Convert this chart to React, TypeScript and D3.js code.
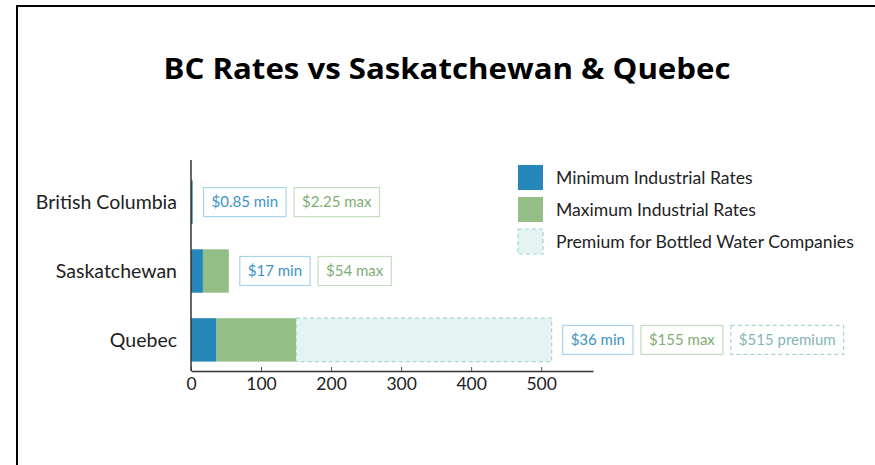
import { useEffect, useRef } from "react";
import * as d3 from "d3";

// Data
const provinces = ["British Columbia", "Saskatchewan", "Quebec"];
const minRates = [0.85, 17, 36];
const maxRates = [2.25, 54, 150];
const premiumRates = [0, 0, 515];
const minLabels = ["$0.85 min", "$17 min", "$36 min"];
const maxLabels = ["$2.25 max", "$54 max", "$155 max"];
const premiumLabels = ["", "", "$515 premium"];
const xTicks = [0, 100, 200, 300, 400, 500];
const legendItems = [
  "Minimum Industrial Rates",
  "Maximum Industrial Rates",
  "Premium for Bottled Water Companies",
];

const colors = {
  min: "#2586b9",
  max: "#93bf86",
  premium: "#e6f3f3",
  premiumStroke: "#a3d6d6",
  minText: "#3b93c6",
  minBox: "#a9d4ec",
  maxText: "#80ad72",
  maxBox: "#c6dcbf",
  premText: "#86b3b8",
};

const App = () => {
  const svgRef = useRef<SVGSVGElement>(null);

  useEffect(() => {
    const width = 875;
    const height = 465;
    const svg = d3.select(svgRef.current).attr("width", width).attr("height", height);
    svg.selectAll("*").remove();

    const font = "Lato, 'Open Sans', sans-serif";

    // frame
    svg
      .append("rect")
      .attr("x", 17)
      .attr("y", 6)
      .attr("width", 900)
      .attr("height", 500)
      .attr("fill", "#fff")
      .attr("stroke", "#000")
      .attr("stroke-width", 2);

    // title
    svg
      .append("text")
      .attr("x", 447)
      .attr("y", 79)
      .attr("text-anchor", "middle")
      .style("font-family", "'Open Sans', sans-serif")
      .style("font-weight", 700)
      .style("font-size", "28px")
      .attr("textLength", 567)
      .attr("lengthAdjust", "spacingAndGlyphs")
      .attr("fill", "#000")
      .text("BC Rates vs Saskatchewan & Quebec");

    const x = d3.scaleLinear().domain([0, 574]).range([191, 593]);
    const y = d3.scaleBand().domain(provinces).range([168, 374]).paddingInner(0.37).paddingOuter(0.18);

    const rows = provinces.map((p, i) => ({
      name: p,
      min: minRates[i],
      max: maxRates[i],
      premium: premiumRates[i],
      labels: [
        { text: minLabels[i], kind: "min" },
        { text: maxLabels[i], kind: "max" },
        { text: premiumLabels[i], kind: "premium" },
      ].filter((d) => d.text !== ""),
    }));

    // premium bars (dashed)
    svg
      .selectAll(".prem")
      .data(rows.filter((d) => d.premium > 0))
      .enter()
      .append("rect")
      .attr("x", (d) => x(d.max))
      .attr("y", (d) => y(d.name)!)
      .attr("width", (d) => x(d.premium) - x(d.max))
      .attr("height", y.bandwidth())
      .attr("fill", colors.premium)
      .attr("stroke", colors.premiumStroke)
      .attr("stroke-width", 1.2)
      .attr("stroke-dasharray", "4,3");

    // max bars
    svg
      .selectAll(".maxbar")
      .data(rows)
      .enter()
      .append("rect")
      .attr("x", (d) => x(d.min))
      .attr("y", (d) => y(d.name)!)
      .attr("width", (d) => x(d.max) - x(d.min))
      .attr("height", y.bandwidth())
      .attr("fill", colors.max);

    // min bars
    svg
      .selectAll(".minbar")
      .data(rows)
      .enter()
      .append("rect")
      .attr("x", x(0))
      .attr("y", (d) => y(d.name)!)
      .attr("width", (d) => Math.max(x(d.min) - x(0), 1.5))
      .attr("height", y.bandwidth())
      .attr("fill", colors.min);

    // x axis
    const axisY = 371;
    const xAxis = d3
      .axisBottom(x)
      .tickValues(xTicks)
      .tickSizeInner(-4)
      .tickSizeOuter(0)
      .tickPadding(7);
    const gx = svg.append("g").attr("transform", `translate(0,${axisY})`).call(xAxis);
    gx.select(".domain").attr("stroke", "#333").attr("stroke-width", 1.5);
    gx.selectAll(".tick line").attr("stroke", "#555");
    gx.selectAll(".tick text")
      .style("font-family", font)
      .style("font-size", "17.5px")
      .attr("fill", "#222");

    // y axis line
    svg
      .append("line")
      .attr("x1", x(0))
      .attr("x2", x(0))
      .attr("y1", 160)
      .attr("y2", axisY)
      .attr("stroke", "#333")
      .attr("stroke-width", 1.5);

    // category labels
    svg
      .selectAll(".cat")
      .data(rows)
      .enter()
      .append("text")
      .attr("x", 177)
      .attr("y", (d) => y(d.name)! + y.bandwidth() / 2)
      .attr("dy", "0.35em")
      .attr("text-anchor", "end")
      .style("font-family", font)
      .style("font-size", "19.5px")
      .attr("fill", "#222")
      .text((d) => d.name);

    // value boxes
    const boxH = 29;
    rows.forEach((r) => {
      const end = r.premium > 0 ? r.premium : r.max;
      let cx = x(end) + 11;
      const cy = y(r.name)! + y.bandwidth() / 2;
      r.labels.forEach((lab) => {
        const g = svg.append("g");
        const t = g
          .append("text")
          .attr("y", cy)
          .attr("dy", "0.35em")
          .style("font-family", font)
          .style("font-size", "15px")
          .attr("fill", lab.kind === "min" ? colors.minText : lab.kind === "max" ? colors.maxText : colors.premText)
          .text(lab.text);
        const w = (t.node() as SVGTextElement).getComputedTextLength();
        const pad = 8;
        t.attr("x", cx + pad);
        g.insert("rect", "text")
          .attr("x", cx)
          .attr("y", cy - boxH / 2)
          .attr("width", w + pad * 2)
          .attr("height", boxH)
          .attr("fill", "#fff")
          .attr("stroke", lab.kind === "min" ? colors.minBox : lab.kind === "max" ? colors.maxBox : colors.premiumStroke)
          .attr("stroke-width", 1.2)
          .attr("stroke-dasharray", lab.kind === "premium" ? "4,3" : null);
        cx += w + pad * 2 + 8;
      });
    });

    // legend
    const legend = svg.append("g").attr("transform", "translate(518,165)");
    const legendFill = [colors.min, colors.max, colors.premium];
    legendItems.forEach((item, i) => {
      const g = legend.append("g").attr("transform", `translate(0,${i * 32})`);
      g.append("rect")
        .attr("width", 25)
        .attr("height", 25)
        .attr("fill", legendFill[i])
        .attr("stroke", i === 2 ? colors.premiumStroke : "none")
        .attr("stroke-width", 1.2)
        .attr("stroke-dasharray", i === 2 ? "4,3" : null);
      g.append("text")
        .attr("x", 38)
        .attr("y", 12.5)
        .attr("dy", "0.35em")
        .style("font-family", font)
        .style("font-size", "17.6px")
        .attr("fill", "#222")
        .text(item);
    });

    return () => {
      svg.selectAll("*").remove();
    };
  }, []);

  return (
    <div style={{ position: "absolute", left: 0, top: 0 }}>
      <svg ref={svgRef}></svg>
    </div>
  );
};

export default App;
